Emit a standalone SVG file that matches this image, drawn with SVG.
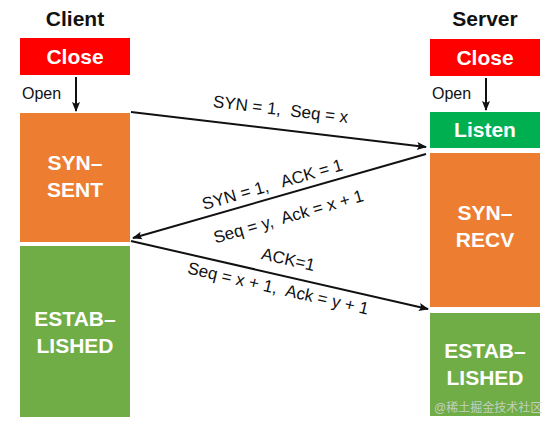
<svg xmlns="http://www.w3.org/2000/svg" width="555" height="428" viewBox="0 0 555 428">
<style>
.title{font-family:"Liberation Sans",Arial,sans-serif;font-size:21px;font-weight:bold;fill:#111;text-anchor:middle}
.box{font-family:"Liberation Sans",Arial,sans-serif;font-size:21px;font-weight:bold;fill:#fff;text-anchor:middle}
.st{font-family:"Liberation Sans",Arial,sans-serif;font-size:21px;font-weight:bold;fill:#fff;text-anchor:middle}
.open{font-family:"Liberation Sans",Arial,sans-serif;font-size:16px;fill:#111}
.lbl{font-family:"Liberation Sans",Arial,sans-serif;font-size:17px;fill:#111;text-anchor:middle;white-space:pre}
.line{stroke:#111;stroke-width:2;fill:none;marker-end:url(#ah)}
.red{fill:#ff0000}.org{fill:#ed7d31}.grn{fill:#00b050}.est{fill:#70ad47}
</style>
<defs>
<marker id="ah" viewBox="0 0 10 10" refX="9" refY="5" markerWidth="5" markerHeight="5" orient="auto" markerUnits="strokeWidth">
<path d="M0,1 L10,5 L0,9 L2,5 Z" fill="#111"/>
</marker>
</defs>
<rect width="555" height="428" fill="#fff"/>
<text class="title" x="75" y="26">Client</text>
<text class="title" x="485" y="26">Server</text>

<g id="client-close"><rect class="red" x="20" y="38" width="110" height="37"/><text class="box" x="75" y="64">Close</text></g>
<g id="client-synsent"><rect class="org" x="20" y="113" width="110" height="129"/><text class="st" x="75" y="170">SYN–</text><text class="st" x="75" y="197">SENT</text></g>
<g id="client-established"><rect class="est" x="20" y="246" width="110" height="171"/><text class="st" x="75" y="326">ESTAB–</text><text class="st" x="75" y="353">LISHED</text></g>

<g id="server-close"><rect class="red" x="430" y="39" width="110" height="37"/><text class="box" x="485" y="65">Close</text></g>
<g id="server-listen"><rect class="grn" x="430" y="112" width="110" height="36"/><text class="box" x="485" y="137">Listen</text></g>
<g id="server-synrecv"><rect class="org" x="430" y="153" width="110" height="154"/><text class="st" x="485" y="220">SYN–</text><text class="st" x="485" y="247">RECV</text></g>
<g id="server-established"><rect class="est" x="430" y="313" width="110" height="103"/><text class="st" x="485" y="358">ESTAB–</text><text class="st" x="485" y="385">LISHED</text></g>

<g id="connectors">
<line class="line" x1="76" y1="77" x2="76" y2="111"/>
<line class="line" x1="486" y1="78" x2="486" y2="110"/>
<line class="line" x1="131" y1="112" x2="426" y2="147"/>
<line class="line" x1="426" y1="154" x2="133" y2="238"/>
<line class="line" x1="131" y1="241" x2="428" y2="309"/>
<text class="open" x="22" y="99">Open</text>
<text class="open" x="432" y="99">Open</text>
<text class="lbl" xml:space="preserve" transform="translate(280,115) rotate(6.8)">SYN = 1,  Seq = x</text>
<text class="lbl" xml:space="preserve" transform="translate(274,190) rotate(-16)">SYN = 1,   ACK = 1</text>
<text class="lbl" xml:space="preserve" transform="translate(290,222) rotate(-16)">Seq = y,  Ack = x + 1</text>
<text class="lbl" xml:space="preserve" transform="translate(287,265) rotate(12.9)">ACK=1</text>
<text class="lbl" xml:space="preserve" transform="translate(277,294) rotate(12.9)">Seq = x + 1,  Ack = y + 1</text>
</g>
<text x="434" y="412" font-family="'Liberation Sans','Noto Sans CJK SC',sans-serif" font-size="12" fill="#ccd4cc" opacity="0.9">@稀土掘金技术社区</text>
</svg>
